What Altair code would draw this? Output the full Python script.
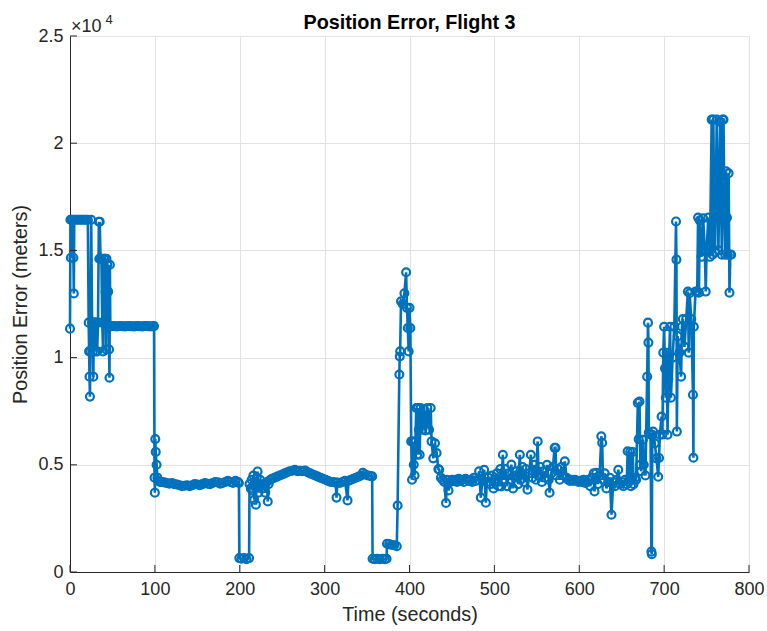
import altair as alt
import pandas as pd

# ---- data: (time in s, position error in m) ----
seg_start = [(0, 11350), (0.5, 16430), (1, 14660), (1.5, 16430), (3, 16430), (4, 14660), (4.5, 12990),
             (5, 16430), (7, 16430), (9, 16430), (11, 16430), (13, 16430), (15, 16430), (17, 16430),
             (19, 16430), (21, 16430), (22, 11630), (22.5, 10290), (23, 9110), (23.5, 8180), (24, 10290),
             (25, 16430), (26, 11630), (27, 10290), (27.5, 9110), (28, 11630), (29, 11630), (30, 10290),
             (31, 11630), (32, 10290), (33, 11630), (34, 16340), (34.5, 14610), (35, 16340), (36, 14610),
             (37, 14610), (38, 11630), (39, 10290), (40, 14610), (41, 14610), (42, 13080), (42.5, 10380),
             (43, 14610), (44, 14330), (45, 13080), (46, 10380), (46.5, 9060), (47, 14330), (47.5, 11460)]

seg_plateau = [(49, 11460), (51, 11470), (53, 11460), (55, 11450), (57, 11460), (59, 11470), (61, 11460),
               (63, 11460), (65, 11450), (67, 11460), (69, 11470), (71, 11460), (73, 11460), (75, 11450),
               (77, 11460), (79, 11470), (81, 11460), (83, 11460), (85, 11450), (87, 11460), (89, 11470),
               (91, 11460), (93, 11460), (95, 11450), (97, 11460), (99, 11470)]

seg_low1 = [(99.6, 4400), (100, 3700), (100.5, 6200), (101, 5600), (102, 5000), (103, 4400), (104, 4250),
            (106, 4200), (108, 4200), (111, 4180), (114, 4150), (117, 4120), (120, 4150), (123, 4100),
            (126, 4080), (129, 4050), (132, 4000), (135, 4020), (138, 4050), (141, 4000), (144, 4050),
            (147, 4100), (150, 4080), (153, 4050), (156, 4100), (159, 4150), (162, 4120), (165, 4100),
            (168, 4150), (171, 4200), (174, 4180), (177, 4120), (180, 4150), (183, 4200), (186, 4250),
            (189, 4200), (192, 4150), (195, 4250), (198, 4200)]

seg_arc = [(199, 4150), (199.5, 650), (202, 620), (205, 650), (208, 600), (211, 650), (211.5, 4100),
           (213, 3900), (214, 4300), (215, 3800), (216, 4500), (217, 3370), (218, 4200), (219, 3140),
           (220, 4400), (221, 4690), (222, 3700), (223, 4000), (224, 4300), (226, 3900), (228, 4100),
           (230, 3700), (232, 4200), (233, 3290), (234, 4100), (236, 4300), (238, 4350), (241, 4400),
           (244, 4450), (247, 4500), (250, 4550), (253, 4600), (256, 4650), (259, 4700), (262, 4720),
           (265, 4770), (268, 4700), (271, 4720), (274, 4700), (277, 4730), (280, 4650), (283, 4600),
           (286, 4550), (289, 4500), (292, 4450), (295, 4400), (298, 4350), (301, 4300), (304, 4250),
           (307, 4200), (310, 4200), (313, 4170), (314, 3470), (315, 4170), (318, 4150), (321, 4200),
           (324, 4250), (327, 3340), (328, 4250), (331, 4300), (334, 4350), (337, 4400), (340, 4450),
           (343, 4500), (345, 4630), (348, 4550), (351, 4500), (354, 4480), (356, 4460)]

seg_spike = [(356.5, 620), (359, 600), (362, 620), (365, 600), (368, 620), (371, 600), (373, 620),
             (373.5, 1320), (376, 1300), (379, 1260), (382, 1250), (385, 1200), (386, 3100), (388, 9210),
             (388.5, 10050), (389, 10290), (390, 12630), (392, 12500), (394, 13000), (396, 13980),
             (397, 12320), (398, 11380), (399, 10290), (400, 12320), (401, 11380), (402, 6090), (403, 4300),
             (404, 6090), (405, 5000), (406, 4500), (407, 6100), (408, 7650), (409, 5470), (410, 7650),
             (411, 6640), (412, 5470), (413, 7650), (415, 6640), (417, 7600), (419, 6600), (421, 7650),
             (423, 6640), (425, 7650), (426, 6090), (428, 5300), (430, 6000), (432, 5550), (434, 4800),
             (435, 4770), (437, 4400), (439, 4300), (441, 4200), (443, 3220), (444, 4300), (446, 3800),
             (448, 4200), (450, 4300)]

seg_noisy = [(452, 4250), (454, 4300), (456, 4200), (458, 4350), (460, 4250), (462, 4300), (464, 4200),
             (466, 4350), (468, 4300), (470, 4250), (472, 4300), (474, 4200), (476, 4400), (478, 4250),
             (480, 4300), (482, 4700), (484, 3470), (486, 4300), (488, 4770), (490, 3230), (491, 4200),
             (493, 4400), (495, 4100), (497, 4500), (499, 3900), (501, 4300), (503, 4600), (505, 4000),
             (507, 4800), (508, 3990), (510, 5470), (511, 4300), (513, 4800), (515, 4000), (517, 4600),
             (519, 4300), (520, 5010), (522, 3900), (524, 4500), (526, 4700), (528, 4100), (530, 5470),
             (531, 4300), (533, 4900), (535, 4200), (537, 4800), (539, 3840), (541, 4600), (543, 5470),
             (545, 4400), (547, 5000), (549, 4300), (551, 6090), (552, 4500), (554, 4900), (556, 4200),
             (558, 4700), (560, 4400), (562, 5000), (564, 4300), (565, 3700), (567, 4600), (569, 4900),
             (571, 5790), (572, 5790), (573, 4500), (575, 4800), (577, 4300), (579, 4900), (581, 4500),
             (583, 5160), (585, 4400), (587, 4300), (589, 4250), (591, 4300), (593, 4250), (595, 4300),
             (597, 4250), (599, 4200), (601, 4250), (603, 4200), (605, 4300), (607, 4150), (609, 4200),
             (611, 4300), (613, 4000), (615, 4400), (617, 4600), (618, 3760), (620, 4630), (622, 4100),
             (624, 4500), (626, 6330), (627, 6030), (628, 4300), (630, 4600), (632, 3900), (634, 4200),
             (636, 4400), (638, 2670), (640, 4200), (642, 4000), (644, 4300), (646, 4770), (648, 4100),
             (650, 4200), (652, 4000), (654, 4300), (656, 4100), (657, 5630), (658, 4200), (660, 5600),
             (661, 4000), (663, 5600), (664, 4100), (666, 4400)]

seg_rise = [(667, 4300), (669, 7890), (670, 6200), (671, 7950), (672, 5000), (673, 4700), (675, 6170),
            (676, 5000), (678, 4500), (680, 9110), (681, 11630), (681.5, 10700), (682, 6500), (684, 6400),
            (685, 950), (685.5, 830), (686, 6400), (687, 6550), (689, 6000), (691, 5300), (693, 4440),
            (694, 5320), (695, 6400), (697, 7250), (698, 6410), (699, 10230), (700, 11440), (701, 9500),
            (702, 8130), (703, 10230), (704, 6400), (705, 9000), (707, 11440), (708, 8130), (710, 10000),
            (712, 11440), (714, 16350), (714.5, 14570), (715, 6550), (716, 11000), (718, 10230),
            (720, 9110), (721, 11440), (722, 11800), (724, 10500), (726, 11800), (728, 13080),
            (729, 10230), (730, 13000), (732, 11800), (734, 8270), (734.5, 5330), (735, 11440),
            (737, 13080), (739, 13080), (740, 16530), (741, 13030), (742, 16400), (744, 14700),
            (746, 16500), (748, 14950), (749, 13080), (750, 14950), (752, 16530), (754, 14700),
            (756, 21100), (757, 14800), (758, 21100), (759, 16530), (760, 14900), (762, 21100),
            (764, 15000), (766, 21000), (768, 14800), (769, 21100), (770, 21100), (771, 16500),
            (772, 14800), (773, 18690), (774, 16530), (775, 14800), (776, 18600), (777, 13030),
            (778, 14810), (779, 14800)]

x_ticks = [0, 100, 200, 300, 400, 500, 600, 700, 800]
y_ticks = [0, 5000, 10000, 15000, 20000, 25000]
title_text = ["Position Error, Flight 3"]

rows = []
for seg in [seg_start, seg_plateau, seg_low1, seg_arc, seg_spike, seg_noisy, seg_rise]:
    rows.extend(seg)
df = pd.DataFrame(rows, columns=["t", "err"])
df["i"] = range(len(df))

W, H = 679, 536
FONT = "Liberation Sans"
BLUE = "#0072BD"
INK = "#262626"
XT = "Time (seconds)"
YT = "Position Error (meters)"

xs = alt.Scale(domain=[0, 800], nice=False, zero=False)
ys = alt.Scale(domain=[0, 25000], nice=False)

x_axis = alt.Axis(values=x_ticks, ticks=False, labelPadding=8, titlePadding=6,
                  labelFlush=False, format="d", grid=True)
y_axis = alt.Axis(values=y_ticks, ticks=False, labelPadding=7, titlePadding=7,
                  labelExpr="datum.value / 10000", grid=True)

line = alt.Chart(df).mark_line(
    color=BLUE, strokeWidth=2.6,
    point=alt.OverlayMarkDef(filled=False, size=62, strokeWidth=2.2, color=BLUE, shape="circle"),
).encode(
    x=alt.X("t:Q", scale=xs, title=XT, axis=x_axis),
    y=alt.Y("err:Q", scale=ys, title=YT, axis=y_axis),
    order=alt.Order("i:Q"),
)

xtick = alt.Chart(pd.DataFrame({"t": x_ticks})).mark_rule(color=INK, strokeWidth=1).encode(
    x=alt.X("t:Q", scale=xs, title=XT, axis=x_axis),
    y=alt.value(H), y2=alt.value(H - 7),
)
ytick = alt.Chart(pd.DataFrame({"err": y_ticks})).mark_rule(color=INK, strokeWidth=1).encode(
    y=alt.Y("err:Q", scale=ys, title=YT, axis=y_axis),
    x=alt.value(0), x2=alt.value(7),
)

title = alt.Chart(pd.DataFrame({"s": title_text})).mark_text(
    font=FONT, fontSize=19.8, fontWeight="bold", color="#000000", align="center", baseline="alphabetic"
).encode(x=alt.value(W / 2), y=alt.value(-7), text="s:N")

exp_base = alt.Chart(pd.DataFrame({"s": ["×10"]})).mark_text(
    font=FONT, fontSize=18, color=INK, align="left", baseline="alphabetic"
).encode(x=alt.value(1), y=alt.value(-4), text="s:N")
exp_pow = alt.Chart(pd.DataFrame({"s": ["4"]})).mark_text(
    font=FONT, fontSize=13, color=INK, align="left", baseline="alphabetic"
).encode(x=alt.value(35.5), y=alt.value(-12), text="s:N")

chart = alt.layer(line, xtick, ytick, title, exp_base, exp_pow).properties(
    width=W, height=H,
    autosize=alt.AutoSizeParams(type="none"),
    padding={"left": 70, "top": 36, "right": 18, "bottom": 59},
    background="white",
).configure_view(stroke=None).configure_axis(
    labelFont=FONT, labelFontSize=18, labelColor=INK,
    titleFont=FONT, titleFontSize=19.8, titleFontWeight="normal", titleColor=INK,
    gridColor="#e2e2e2", gridWidth=1, domainColor=INK, domainWidth=1,
)

chart.save("out.html", embed_options={"renderer": "svg", "actions": False})
